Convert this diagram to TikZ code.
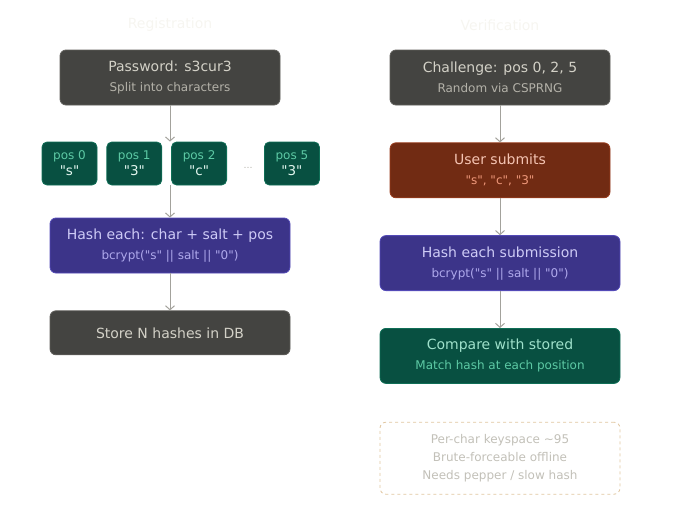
\documentclass[tikz,border=0pt]{standalone}
\usepackage{fontspec}
\setmainfont{DejaVu Sans}
\usetikzlibrary{positioning, arrows.meta}

\definecolor{graybg}{HTML}{444441}
\definecolor{grayline}{HTML}{5F5E5A}
\definecolor{graytext}{HTML}{D3D1C7}
\definecolor{graysub}{HTML}{B4B2A9}
\definecolor{purplebg}{HTML}{3C3489}
\definecolor{purpleline}{HTML}{534AB7}
\definecolor{purpletext}{HTML}{CECBF6}
\definecolor{purplesub}{HTML}{AFA9EC}
\definecolor{coralbg}{HTML}{712B13}
\definecolor{coralline}{HTML}{993C1D}
\definecolor{coraltext}{HTML}{F5C4B3}
\definecolor{coralsub}{HTML}{F0997B}
\definecolor{tealbg}{HTML}{085041}
\definecolor{tealline}{HTML}{0F6E56}
\definecolor{tealtext}{HTML}{9FE1CB}
\definecolor{tealsub}{HTML}{5DCAA5}
\definecolor{tealchar}{HTML}{E1F5EE}
\definecolor{notetext}{HTML}{C2C0B8}
\definecolor{noteline}{HTML}{E0C6A0}
\definecolor{titletext}{HTML}{F6F5F0}
\definecolor{arrowgray}{HTML}{A3A29C}

\newcommand{\dq}{\textquotedbl}
\newcommand{\boxtext}[2]{{\fontsize{14}{20}\selectfont #1}\\{\fontsize{12}{20}\selectfont\color{subc}#2}}
\newcommand{\postext}[2]{{\fontsize{12}{16}\selectfont\color{tealsub}pos #1}\\\dq#2\dq}

\begin{document}
\begin{tikzpicture}[
            x=1pt, y=-1pt,
            box/.style={rectangle, rounded corners=6pt, line width=0.8pt, inner sep=0pt,
                        minimum width=220pt, minimum height=55pt, align=center,
                        font=\fontsize{14}{20}\selectfont},
            graybox/.style={box, fill=graybg, draw=grayline, text=graytext,
                        execute at begin node={\colorlet{subc}{graysub}}},
            purplebox/.style={box, fill=purplebg, draw=purpleline, text=purpletext,
                        minimum width=240pt, execute at begin node={\colorlet{subc}{purplesub}}},
            coralbox/.style={box, fill=coralbg, draw=coralline, text=coraltext,
                        execute at begin node={\colorlet{subc}{coralsub}}},
            tealbox/.style={box, fill=tealbg, draw=tealline, text=tealtext,
                        minimum width=240pt, execute at begin node={\colorlet{subc}{tealsub}}},
            charbox/.style={rectangle, rounded corners=5pt, line width=0.8pt, inner sep=0pt,
                        fill=tealbg, draw=tealline, minimum width=55pt, minimum height=43pt,
                        align=center, text=tealchar, font=\fontsize{13.5}{16}\selectfont},
            notebox/.style={rectangle, rounded corners=6pt, line width=0.8pt,
                        dash pattern=on 3pt off 3pt, draw=noteline, inner sep=0pt,
                        minimum width=240pt, minimum height=72pt, align=center,
                        text=notetext, font=\fontsize{12}{18}\selectfont},
            coltitle/.style={text=titletext, font=\fontsize{14}{16}\selectfont},
            arrow/.style={draw=arrowgray, line width=1pt,
                        -{Straight Barb[length=4pt, width=9pt, line width=1pt]}}
        ]
        \useasboundingbox (0,0) rectangle (680,530);

        % Registrierung
        \node[coltitle] (regtitle) at (170,25) {Registration};
        \node[graybox] (pw) at (170,77.5) {\boxtext{Password: s3cur3}{Split into characters}};
        \node[charbox] (pos0) at (69.5,163.5) {\postext{0}{s}};
        \node[charbox, right=9pt of pos0] (pos1) {\postext{1}{3}};
        \node[charbox, right=9pt of pos1] (pos2) {\postext{2}{c}};
        \node[charbox, right=37pt of pos2] (pos5) {\postext{5}{3}};
        \node[text=graysub, font=\fontsize{9}{10}\selectfont] (dots) at (248,168) {\dots};
        \node[purplebox] (hash) at (170,245.5) {\boxtext{Hash each: char + salt + pos}{bcrypt(\dq s\dq{} || salt || \dq 0\dq)}};
        \node[graybox, minimum width=240pt, minimum height=44pt, below=37pt of hash] (store) {Store N hashes in DB};

        % Verifikation
        \node[coltitle] (vertitle) at (500,25) {Verification};
        \node[graybox] (chal) at (500,77.5) {\boxtext{Challenge: pos 0, 2, 5}{Random via CSPRNG}};
        \node[coralbox, below=37pt of chal] (user) {\boxtext{User submits}{\dq s\dq, \dq c\dq, \dq 3\dq}};
        \node[purplebox, below=37pt of user] (hashsub) {\boxtext{Hash each submission}{bcrypt(\dq s\dq{} || salt || \dq 0\dq)}};
        \node[tealbox, below=37pt of hashsub] (cmp) {\boxtext{Compare with stored}{Match hash at each position}};
        \node[notebox, below=38pt of cmp] (note) {Per-char keyspace \textasciitilde95\\Brute-forceable offline\\Needs pepper / slow hash};

        % Kanten
        \draw[arrow] (pw.south) -- (pw.south |- pos2.north);
        \draw[arrow] (hash.north |- pos2.south) -- (hash.north);
        \draw[arrow] (hash.south) -- (store.north);
        \draw[arrow] (chal.south) -- (user.north);
        \draw[arrow] (user.south) -- (hashsub.north);
        \draw[arrow] (hashsub.south) -- (cmp.north);

    \end{tikzpicture}
\end{document}
